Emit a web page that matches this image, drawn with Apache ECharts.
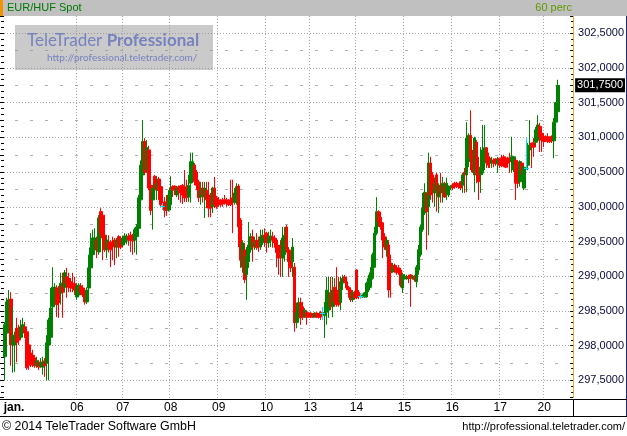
<!DOCTYPE html>
<html>
<head>
<meta charset="utf-8">
<script src="https://cdn.jsdelivr.net/npm/echarts@6/dist/echarts.min.js"></script>
<style>
html, body { margin: 0; padding: 0; background: #fff; }
#chart { width: 627px; height: 436px; }
</style>
</head>
<body>
<div id="chart"></div>
<script>
// ---------------- DATA ----------------
const title = 'EUR/HUF Spot';
const periodLabel = '60 perc';
const days = ['01-02', '01-03', '01-06', '01-07', '01-08', '01-09', '01-10', '01-13', '01-14', '01-15', '01-16', '01-17', '01-20'];
const monthLabel = 'jan.';
const hiddenDays = ['01-03'];      // no label / day line drawn for this day in the reference
const emptySlots = 7;              // empty hourly slots after the last candle
const yTickLabels = ['297,5000', '298,0000', '298,5000', '299,0000', '299,5000', '300,0000', '300,5000', '301,0000', '301,5000', '302,0000', '302,5000'];

// hourly candles: [open, close, low, high]  (open === close -> doji, drawn in cyan)
const jan02 = [
  [297.84, 298.30, 297.50, 298.34], [298.18, 298.63, 298.15, 298.69], [298.37, 298.66, 298.34, 298.80],
  [298.67, 298.01, 297.71, 298.77], [298.01, 298.15, 297.61, 298.56], [298.01, 298.08, 297.62, 298.20],
  [298.25, 298.05, 297.76, 298.40], [298.22, 298.08, 298.01, 298.30], [298.12, 298.27, 298.08, 298.37],
  [298.22, 298.30, 298.18, 298.40], [298.27, 298.18, 298.11, 298.34], [298.20, 297.68, 297.65, 298.22],
  [298.01, 297.72, 297.65, 298.04], [297.89, 297.72, 297.69, 297.91]
];
const jan03 = [
  [297.86, 297.75, 297.69, 297.94], [297.82, 297.71, 297.68, 297.86], [297.71, 297.78, 297.68, 297.84],
  [297.76, 297.69, 297.65, 297.79], [297.71, 297.76, 297.68, 297.82], [297.69, 297.76, 297.58, 297.84],
  [297.78, 297.71, 297.55, 297.82], [297.75, 298.04, 297.50, 298.15], [298.01, 298.37, 297.50, 298.40],
  [298.12, 298.54, 298.08, 298.83], [298.56, 298.84, 298.51, 299.13], [298.73, 298.84, 298.66, 298.90],
  [298.83, 298.59, 298.41, 298.87], [298.77, 298.62, 298.40, 298.86], [298.76, 298.90, 298.59, 299.05],
  [298.87, 298.77, 298.40, 299.05], [298.84, 299.05, 298.77, 299.09], [298.99, 298.90, 298.69, 299.12],
  [298.97, 298.84, 298.77, 299.05], [298.92, 298.83, 298.77, 298.97], [298.90, 298.83, 298.77, 299.05],
  [298.89, 298.80, 298.73, 298.99]
];
const jan06 = [
  [298.70, 298.84, 298.66, 298.90], [298.73, 298.87, 298.70, 298.90], [298.86, 298.77, 298.73, 298.90],
  [298.83, 298.73, 298.70, 298.87], [298.76, 298.63, 298.59, 298.80], [298.63, 298.80, 298.60, 298.84],
  [298.83, 299.12, 298.77, 299.31], [299.12, 299.41, 299.09, 299.62], [299.31, 299.55, 299.23, 299.67],
  [299.38, 299.55, 299.35, 299.69], [299.52, 299.38, 299.26, 299.57], [299.35, 299.84, 299.31, 299.88],
  [299.93, 299.62, 299.58, 299.98], [299.88, 299.55, 299.23, 299.93], [299.59, 299.38, 299.35, 299.62],
  [299.38, 299.52, 299.26, 299.59], [299.49, 299.41, 299.34, 299.59], [299.49, 299.38, 299.13, 299.52],
  [299.49, 299.44, 299.23, 299.57], [299.52, 299.42, 299.16, 299.55], [299.42, 299.52, 299.26, 299.55],
  [299.57, 299.42, 299.28, 299.59], [299.54, 299.42, 299.39, 299.57]
];
const jan07 = [
  [299.45, 299.55, 299.42, 299.58], [299.49, 299.58, 299.45, 299.62], [299.52, 299.57, 299.46, 299.61],
  [299.58, 299.52, 299.44, 299.62], [299.59, 299.52, 299.35, 299.64], [299.58, 299.51, 299.31, 299.61],
  [299.52, 299.67, 299.34, 299.70], [299.57, 299.71, 299.31, 299.75], [299.69, 300.13, 299.62, 300.17],
  [300.10, 300.60, 299.95, 300.67], [300.46, 300.94, 300.39, 301.25], [300.94, 300.50, 300.46, 300.99],
  [300.53, 300.85, 300.49, 300.96], [300.82, 300.27, 300.24, 300.88], [300.31, 299.95, 299.88, 300.34],
  [300.10, 300.27, 299.67, 300.31], [300.44, 300.27, 300.24, 300.46], [300.24, 300.33, 300.10, 300.43],
  [300.40, 300.24, 300.10, 300.43], [300.29, 300.03, 300.00, 300.31], [300.01, 300.01, 299.96, 300.06],
  [300.07, 299.95, 299.85, 300.14], [300.06, 299.95, 299.87, 300.17], [299.95, 300.17, 299.93, 300.24]
];
const jan08 = [
  [300.03, 300.27, 299.95, 300.44], [300.29, 300.24, 300.14, 300.31], [300.30, 300.24, 300.17, 300.31],
  [300.17, 300.27, 300.14, 300.30], [300.29, 300.24, 300.10, 300.31], [300.30, 300.20, 300.06, 300.31],
  [300.31, 300.17, 300.04, 300.33], [300.29, 300.13, 300.07, 300.53], [300.27, 300.13, 300.07, 300.39],
  [300.14, 300.31, 300.07, 300.46], [300.34, 300.65, 300.06, 300.78], [300.42, 300.65, 300.34, 300.78],
  [300.60, 300.36, 300.31, 300.63], [300.50, 300.31, 300.24, 300.53], [300.36, 300.13, 300.07, 300.39],
  [300.14, 300.24, 300.03, 300.36], [300.27, 300.17, 300.06, 300.36], [300.14, 300.27, 299.84, 300.36],
  [300.24, 300.10, 299.98, 300.36], [300.17, 299.98, 299.85, 300.36], [300.06, 299.98, 299.85, 300.20],
  [300.00, 300.27, 299.91, 300.29], [300.27, 300.03, 299.98, 300.43], [300.13, 300.00, 299.97, 300.16]
];
const jan09 = [
  [300.10, 300.04, 300.00, 300.14], [300.08, 300.03, 300.00, 300.11], [300.10, 300.04, 300.00, 300.13],
  [300.10, 300.05, 300.03, 300.17], [300.10, 300.05, 300.00, 300.13], [300.08, 300.03, 300.01, 300.11],
  [300.10, 300.03, 300.01, 300.39], [300.13, 300.07, 299.62, 300.39], [300.06, 300.20, 300.03, 300.27],
  [300.06, 300.29, 300.03, 300.34], [300.30, 299.71, 299.42, 300.33], [299.81, 299.23, 299.12, 299.84],
  [299.13, 299.48, 299.05, 299.52], [299.38, 298.95, 298.90, 299.48], [299.02, 299.28, 298.66, 299.42],
  [299.21, 299.45, 299.12, 299.78], [299.38, 299.57, 299.34, 299.62], [299.57, 299.42, 299.21, 299.67],
  [299.42, 299.49, 299.38, 299.57], [299.52, 299.41, 299.38, 299.62], [299.48, 299.42, 299.35, 299.57],
  [299.42, 299.57, 299.38, 299.67], [299.48, 299.59, 299.45, 299.67], [299.59, 299.55, 299.42, 299.69]
];
const jan10 = [
  [299.62, 299.48, 299.34, 299.64], [299.48, 299.57, 299.41, 299.64], [299.52, 299.58, 299.42, 299.67],
  [299.57, 299.52, 299.41, 299.64], [299.55, 299.48, 299.41, 299.59], [299.52, 299.34, 299.13, 299.55],
  [299.41, 299.26, 299.02, 299.45], [299.45, 299.31, 298.99, 299.52], [299.26, 299.55, 298.99, 299.71],
  [299.31, 299.59, 299.21, 299.71], [299.71, 299.38, 299.34, 299.74], [299.38, 299.21, 298.99, 299.42],
  [299.35, 299.12, 299.06, 299.38], [299.21, 299.42, 298.99, 299.55], [299.13, 298.33, 298.20, 299.19],
  [298.33, 298.48, 298.25, 298.62], [298.40, 298.62, 298.33, 298.69], [298.62, 298.40, 298.30, 298.69],
  [298.56, 298.41, 298.37, 298.63], [298.41, 298.51, 298.40, 298.54], [298.48, 298.41, 298.30, 298.51],
  [298.47, 298.41, 298.40, 298.48]
];
const jan13 = [
  [298.47, 298.41, 298.40, 298.48], [298.46, 298.41, 298.40, 298.47], [298.41, 298.47, 298.40, 298.48],
  [298.47, 298.41, 298.40, 298.48], [298.46, 298.41, 298.39, 298.47], [298.48, 298.41, 298.37, 298.50],
  [298.47, 298.47, 298.37, 298.56], [298.43, 298.48, 298.11, 298.63], [298.48, 298.80, 298.30, 298.99],
  [298.51, 298.76, 298.40, 298.99], [298.76, 298.56, 298.51, 298.99], [298.56, 298.80, 298.41, 298.99],
  [298.84, 298.63, 298.56, 298.97], [298.80, 298.59, 298.56, 299.13], [298.77, 298.59, 298.56, 298.99],
  [298.62, 298.92, 298.51, 298.99], [298.90, 298.97, 298.80, 299.02], [298.99, 298.92, 298.90, 299.02],
  [298.92, 298.83, 298.80, 298.99], [298.84, 298.80, 298.69, 298.86], [298.80, 298.66, 298.63, 298.84],
  [298.66, 298.77, 298.63, 298.80], [298.76, 298.69, 298.66, 298.79]
];
const jan14 = [
  [299.09, 298.69, 298.67, 299.10], [298.77, 298.70, 298.67, 298.80], [298.71, 298.71, 298.67, 298.76],
  [298.70, 298.73, 298.69, 298.74], [298.70, 298.76, 298.69, 298.77], [298.70, 298.90, 298.69, 298.92],
  [298.80, 298.97, 298.77, 299.02], [298.84, 299.05, 298.83, 299.13], [298.97, 299.31, 298.95, 299.34],
  [299.13, 299.62, 299.12, 299.71], [299.62, 299.93, 299.59, 300.14], [299.93, 299.78, 299.71, 299.95],
  [299.85, 299.71, 299.67, 299.93], [299.77, 299.52, 299.26, 299.78], [299.57, 299.42, 299.38, 299.62],
  [299.38, 299.52, 299.28, 299.57], [299.45, 298.80, 298.69, 299.52], [299.19, 299.05, 298.69, 299.31],
  [299.06, 299.13, 299.05, 299.19], [299.16, 299.09, 299.05, 299.18], [299.12, 299.05, 299.02, 299.16],
  [299.12, 299.06, 299.02, 299.16], [299.09, 298.87, 298.84, 299.12], [298.83, 299.02, 298.76, 299.05]
];
const jan15 = [
  [298.97, 299.00, 298.95, 299.03], [298.96, 298.99, 298.95, 299.02], [299.00, 298.97, 298.90, 299.02],
  [299.02, 298.97, 298.56, 299.03], [298.97, 299.00, 298.95, 299.02], [299.00, 298.95, 298.92, 299.02],
  [298.92, 299.13, 298.84, 299.16], [299.09, 299.38, 299.02, 299.45], [299.31, 299.71, 299.28, 299.74],
  [299.67, 299.98, 299.64, 300.20], [299.91, 300.21, 299.88, 300.34], [300.20, 299.93, 299.38, 300.21],
  [300.00, 300.63, 299.59, 300.78], [300.63, 300.17, 300.10, 300.72], [300.46, 300.20, 300.06, 300.50],
  [300.20, 300.34, 300.00, 300.42], [300.46, 300.24, 299.93, 300.49], [300.14, 300.31, 299.91, 300.34],
  [300.31, 300.20, 300.06, 300.49], [300.20, 300.34, 300.06, 300.43], [300.29, 300.14, 300.13, 300.36],
  [300.20, 300.34, 300.10, 300.42], [300.17, 300.27, 300.14, 300.31], [300.27, 300.30, 300.24, 300.31]
];
const jan16 = [
  [300.31, 300.27, 300.24, 300.34], [300.34, 300.29, 300.26, 300.36], [300.34, 300.29, 300.27, 300.36],
  [300.33, 300.29, 300.26, 300.34], [300.36, 300.27, 300.24, 300.37], [300.31, 300.46, 300.20, 300.49],
  [300.50, 300.46, 300.20, 300.56], [300.46, 300.99, 300.21, 301.22], [300.65, 301.03, 300.57, 301.06],
  [301.03, 300.70, 300.53, 301.39], [300.75, 300.50, 300.49, 300.82], [300.46, 300.99, 300.21, 301.01],
  [300.93, 300.46, 300.34, 300.96], [300.57, 300.36, 300.10, 300.72], [300.46, 300.57, 300.20, 300.86],
  [300.49, 300.82, 300.46, 301.18], [300.63, 300.85, 300.53, 301.18], [300.85, 300.65, 300.56, 300.86],
  [300.72, 300.60, 300.56, 300.78], [300.70, 300.63, 300.56, 300.72], [300.63, 300.67, 300.56, 300.72],
  [300.67, 300.63, 300.57, 300.70], [300.69, 300.62, 300.59, 300.70], [300.63, 300.67, 300.49, 300.72]
];
const jan17 = [
  [300.70, 300.60, 300.56, 300.70], [300.70, 300.59, 300.57, 300.75], [300.72, 300.60, 300.57, 300.75],
  [300.70, 300.57, 300.56, 300.72], [300.70, 300.63, 300.60, 300.72], [300.70, 300.65, 300.49, 300.78],
  [300.65, 300.72, 300.49, 301.01], [300.53, 300.72, 300.50, 300.72], [300.67, 300.34, 300.10, 300.70],
  [300.53, 300.34, 300.27, 300.57], [300.36, 300.65, 300.29, 300.67], [300.63, 300.53, 300.46, 300.65],
  [300.27, 300.57, 300.24, 300.60], [300.56, 300.56, 300.53, 300.99], [300.60, 300.86, 300.53, 300.92],
  [300.82, 300.89, 300.70, 301.25], [300.92, 300.86, 300.56, 300.92], [300.92, 300.86, 300.72, 300.99],
  [300.93, 301.11, 300.89, 301.15], [300.96, 301.18, 300.94, 301.32], [301.16, 301.01, 300.79, 301.21],
  [301.06, 300.96, 300.79, 301.08]
];
const jan20 = [
  [301.01, 300.94, 300.86, 301.06], [301.01, 300.96, 300.94, 301.03], [300.99, 300.94, 300.92, 301.06],
  [301.01, 300.94, 300.92, 301.01], [300.99, 300.95, 300.92, 301.03], [300.95, 301.22, 300.70, 301.28],
  [301.22, 301.50, 301.18, 301.51], [301.37, 301.75, 301.35, 301.83]
];
const sessions = [jan02, jan03, jan06, jan07, jan08, jan09, jan10, jan13, jan14, jan15, jan16, jan17, jan20];

// ---------------- BUILD ----------------
const FONT = '"Liberation Sans", Arial, sans-serif';
const WM_FONT = 'Lato, "Open Sans", sans-serif';
const categories = [];
days.forEach((d, i) => sessions[i].forEach((_, h) => categories.push(d + ' ' + h)));
for (let i = 0; i < emptySlots; i++) categories.push('empty ' + i);
const ohlc = sessions.flat();
const EMPTY = ['-', '-', '-', '-'];
const regularData = ohlc.map(d => (d[0] !== d[1] ? d : EMPTY));
// doji items for the custom series: [slot, price, low, high]
const dojiItems = ohlc.map((d, i) => (d[0] === d[1] ? [i, d[0], d[2], d[3]] : null)).filter(Boolean);
const lastClose = ohlc[ohlc.length - 1][1];

const isDayStart = (v) => v.endsWith(' 0') && !v.startsWith('empty') && !hiddenDays.includes(v.split(' ')[0]);
const fmtPrice = (v) => v.toFixed(4).replace('.', ',');

// layout
const PX = 69.4;               // pixels per 1 HUF
const TOP = 15.95;             // y of 302.75
const LEFT = 4, RIGHT = 53;
const Y_MIN = 297.25, Y_MAX = 302.75;
const gridAt = (lo, hi) => ({ left: LEFT, right: RIGHT, top: TOP + (Y_MAX - hi) * PX, height: (hi - lo) * PX });

const hiddenX = (gi) => ({ type: 'category', gridIndex: gi, data: categories, boundaryGap: true, show: false });
const hiddenYBase = { type: 'value', axisLine: { show: false }, axisTick: { show: false }, axisLabel: { show: false } };
const CYAN = '#00e0f0';

const chart = echarts.init(document.getElementById('chart'), null, { renderer: 'canvas' });
chart.setOption({
  animation: false,
  backgroundColor: '#ffffff',
  grid: [gridAt(Y_MIN, Y_MAX), gridAt(297.75, 302.25), gridAt(297.5, 302.5)],
  xAxis: [
    {
      type: 'category', gridIndex: 0, data: categories, boundaryGap: true,
      offset: 2,
      axisLine: { show: false },
      axisTick: { show: false },
      axisLabel: {
        interval: (i, v) => i === 0 || isDayStart(v),
        formatter: (v, i) => i === 0 ? '{m|' + monthLabel + '}' : v.split(' ')[0].slice(3),
        color: '#000', fontSize: 12, fontFamily: FONT, margin: 2,
        rich: { m: { fontWeight: 'bold', fontSize: 12, fontFamily: FONT, color: '#000', padding: [0, 0, 0, 18] } }
      },
      splitLine: {
        show: true,
        interval: (i, v) => i > 0 && isDayStart(v),
        lineStyle: { color: '#a4a4a4', width: 1, type: [1, 2] }
      }
    },
    hiddenX(1), hiddenX(2)
  ],
  yAxis: [
    {
      type: 'value', gridIndex: 0, position: 'right', min: Y_MIN, max: Y_MAX, interval: 0.25,
      axisLine: { show: true, lineStyle: { color: '#e8b020', width: 1 } },
      axisTick: { show: true, inside: true, length: 3, lineStyle: { color: '#000' } },
      minorTick: { show: true, splitNumber: 3, length: 2, lineStyle: { color: '#000' } },
      axisLabel: {
        formatter: (v) => { const s = fmtPrice(v); return yTickLabels.includes(s) ? s : ''; },
        color: '#0a0a3a', fontSize: 11, fontFamily: FONT, margin: 5
      },
      splitLine: { show: false }
    },
    {
      type: 'value', gridIndex: 0, position: 'left', min: Y_MIN, max: Y_MAX, interval: 0.25,
      axisLine: { show: false },
      axisTick: { show: true, inside: false, length: 4, lineStyle: { color: '#000' } },
      minorTick: { show: true, splitNumber: 3, length: 3, lineStyle: { color: '#000' } },
      axisLabel: { show: false },
      splitLine: { show: false }
    },
    Object.assign({}, hiddenYBase, {
      gridIndex: 1, min: 297.75, max: 302.25, interval: 0.5,
      splitLine: { show: true, lineStyle: { color: '#b0b0b0', width: 1, type: [3, 12], dashOffset: 4 } }
    }),
    Object.assign({}, hiddenYBase, {
      gridIndex: 2, min: 297.5, max: 302.5, interval: 0.5,
      splitLine: { show: true, lineStyle: { color: '#a4a4a4', width: 1, type: [1, 2] } }
    })
  ],
  series: [{
    type: 'candlestick',
    xAxisIndex: 0, yAxisIndex: 0,
    data: regularData,
    barWidth: 3,
    itemStyle: {
      color: '#008000', color0: '#ff0000',
      borderColor: '#008000', borderColor0: '#ff0000', borderWidth: 1
    },
    emphasis: { disabled: true },
    markLine: {
      silent: true, animation: false, symbol: ['none', 'none'],
      lineStyle: { color: 'rgba(0,0,0,0)' },
      label: {
        show: true, position: 'end', distance: 2,
        formatter: () => fmtPrice(lastClose),
        color: '#fff', backgroundColor: '#000', padding: [2, 2, 1, 2],
        fontSize: 11, fontFamily: FONT
      },
      data: [{ yAxis: lastClose }]
    }
  }, {
    type: 'custom',
    xAxisIndex: 0, yAxisIndex: 0,
    z: 3,
    silent: true,
    data: dojiItems,
    encode: { x: 0, y: 1 },
    renderItem: (params, api) => {
      const slot = api.value(0);
      const c = api.coord([slot, api.value(1)]);
      const lo = api.coord([slot, api.value(2)]);
      const hi = api.coord([slot, api.value(3)]);
      const x = Math.floor(c[0]) + 0.5;
      const y = Math.round(c[1]) + 0.5;
      return {
        type: 'group',
        children: [
          { type: 'line', shape: { x1: x - 2.5, y1: y, x2: x + 2.5, y2: y }, style: { stroke: CYAN, lineWidth: 1 } },
          { type: 'line', shape: { x1: x, y1: Math.round(hi[1]), x2: x, y2: Math.round(lo[1]) }, style: { stroke: CYAN, lineWidth: 1 } }
        ]
      };
    }
  }],
  graphic: [
    // header
    { type: 'rect', z: 100, shape: { x: 0, y: 0, width: 627, height: 16 }, style: { fill: '#c0c0c0' } },
    { type: 'rect', z: 101, shape: { x: 0, y: 0, width: 3, height: 16 }, style: { fill: '#f29400' } },
    { type: 'text', z: 101, x: 7, y: 8, style: { text: title, fill: '#007a00', fontSize: 11, fontFamily: FONT, verticalAlign: 'middle' } },
    { type: 'text', z: 101, x: 572, y: 8, style: { text: periodLabel, fill: '#5f9a00', fontSize: 11, fontFamily: FONT, align: 'right', verticalAlign: 'middle' } },
    // frame lines
    { type: 'line', z: 90, shape: { x1: 626.5, y1: 16, x2: 626.5, y2: 417 }, style: { stroke: '#1c2c80', lineWidth: 1 } },
    { type: 'line', z: 90, shape: { x1: 0, y1: 399.5, x2: 627, y2: 399.5 }, style: { stroke: '#000', lineWidth: 1 } },
    { type: 'line', z: 90, shape: { x1: 0, y1: 416.5, x2: 627, y2: 416.5 }, style: { stroke: '#000', lineWidth: 1 } },
    { type: 'line', z: 90, shape: { x1: 573.5, y1: 399, x2: 573.5, y2: 417 }, style: { stroke: '#000', lineWidth: 1 } },
    // watermark
    { type: 'rect', z: 20, shape: { x: 15, y: 25, width: 198, height: 45 }, style: { fill: 'rgba(150,150,150,0.5)' } },
    { type: 'text', z: 21, x: 27, y: 41, style: {
        text: '{a|TeleTrader }{b|Professional}', verticalAlign: 'middle',
        rich: {
          a: { fontSize: 17, fontFamily: WM_FONT, fill: '#7882bf' },
          b: { fontSize: 17, fontFamily: WM_FONT, fontWeight: 'bold', fill: '#7882bf' }
        } } },
    { type: 'text', z: 21, x: 47, y: 58, style: { text: 'http://professional.teletrader.com/', fill: '#7882bf', fontSize: 10, fontFamily: WM_FONT, verticalAlign: 'middle' } },
    // footer
    { type: 'text', z: 100, x: 2, y: 427, style: { text: '© 2014 TeleTrader Software GmbH', fill: '#000', fontSize: 12.4, fontFamily: FONT, verticalAlign: 'middle' } },
    { type: 'text', z: 100, x: 625, y: 427, style: { text: 'http://professional.teletrader.com/', fill: '#000', fontSize: 11, fontFamily: FONT, align: 'right', verticalAlign: 'middle' } }
  ]
});
</script>
</body>
</html>
